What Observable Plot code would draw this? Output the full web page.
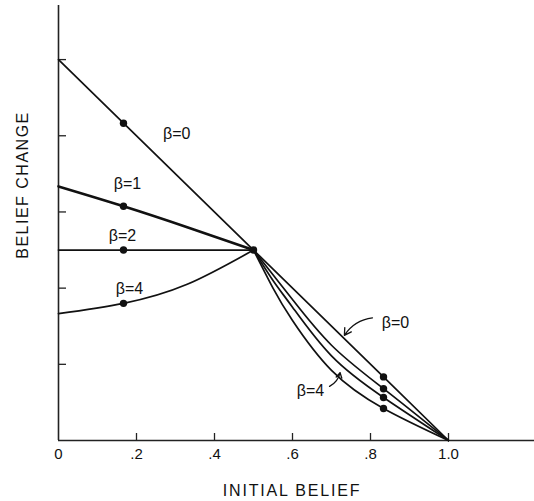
<!DOCTYPE html>
<html>
<head>
<meta charset="utf-8">
<script src="https://cdn.jsdelivr.net/npm/d3@7"></script>
<script src="https://cdn.jsdelivr.net/npm/@observablehq/plot@0.6"></script>
<style>
  html, body { margin: 0; padding: 0; background: #fff; }
  #chart svg { display: block; }
</style>
</head>
<body>
<div id="chart"></div>
<script>
// Tick values
const xTicks = [0.2, 0.4, 0.6, 0.8, 1.0];
const yTicks = [0.2, 0.4, 0.6, 0.8, 1.0];

// Curves: initial belief (x) and belief change (y)
const beta0X = [0, 1/6, 0.5, 5/6, 1];
const beta0Y = [1, 0.833, 0.5, 0.167, 0];

const beta1LeftX = [0, 1/6, 0.33, 0.5];
const beta1LeftY = [0.667, 0.615, 0.56, 0.5];
const beta1RightX = [0.5, 0.55, 0.6, 0.7, 5/6, 1];
const beta1RightY = [0.5, 0.435, 0.37, 0.25, 0.136, 0];

const beta2LeftX = [0, 1/6, 0.33, 0.5];
const beta2LeftY = [0.5, 0.5, 0.5, 0.5];
const beta2RightX = [0.5, 0.55, 0.6, 0.7, 5/6, 1];
const beta2RightY = [0.5, 0.42, 0.35, 0.222, 0.113, 0];

const beta4LeftX = [0, 1/6, 0.33, 0.5];
const beta4LeftY = [0.333, 0.36, 0.41, 0.5];
const beta4RightX = [0.5, 0.55, 0.6, 0.7, 5/6, 1];
const beta4RightY = [0.5, 0.40, 0.315, 0.184, 0.084, 0];

// Marked points
const dotX = [1/6, 1/6, 1/6, 1/6, 0.5, 5/6, 5/6, 5/6, 5/6];
const dotY = [0.833, 0.615, 0.5, 0.36, 0.5, 0.167, 0.136, 0.113, 0.084];

// Labels
const labelText = ["β=0", "β=1", "β=2", "β=4", "β=0", "β=4"];
const labelX = [0.303, 0.177, 0.164, 0.182, 0.864, 0.646];
const labelY = [0.806, 0.675, 0.538, 0.399, 0.31, 0.131];

// Arrows from the right-hand labels to their curves
const arrowX1 = [0.805, 0.695];
const arrowY1 = [0.322, 0.142];
const arrowX2 = [0.733, 0.722];
const arrowY2 = [0.276, 0.178];

const pts = (xs, ys) => xs.map((x, i) => ({x, y: ys[i]}));
const dots = pts(dotX, dotY);
const labels = labelText.map((t, i) => ({t, x: labelX[i], y: labelY[i]}));
const arrows = arrowX1.map((x1, i) => ({x1, y1: arrowY1[i], x2: arrowX2[i], y2: arrowY2[i]}));

const fmt = d => d === 1 ? "1.0" : String(d).replace(/^0\./, ".");

const lineOpts = {x: "x", y: "y", stroke: "#111", strokeWidth: 1.7, curve: "natural"};

const chart = Plot.plot({
  width: 534,
  height: 501,
  marginLeft: 58,
  marginRight: 0,
  marginTop: 5,
  marginBottom: 61,
  style: {fontFamily: "'Liberation Sans', Arial, sans-serif", color: "#111", background: "#fff"},
  x: {domain: [0, 1.2205]},
  y: {domain: [0, 1.142]},
  marks: [
    Plot.ruleX([0], {stroke: "#222", strokeWidth: 1.6}),
    Plot.ruleY([0], {stroke: "#222", strokeWidth: 1.6}),
    Plot.axisX({ticks: xTicks, tickSize: -7, tickPadding: 15, tickFormat: fmt, fontSize: 15, stroke: "#222", strokeWidth: 1.3, label: null}),
    Plot.axisX({ticks: [0], tickSize: 0, tickPadding: 8, tickFormat: () => "0", fontSize: 15, label: null}),
    Plot.axisY({ticks: yTicks, tickSize: -8, tickFormat: () => "", stroke: "#222", strokeWidth: 1.3, label: null}),
    Plot.line(pts(beta0X, beta0Y), {x: "x", y: "y", stroke: "#111", strokeWidth: 1.7}),
    Plot.line(pts(beta1LeftX, beta1LeftY), {...lineOpts, strokeWidth: 2.6}),
    Plot.line(pts(beta1RightX, beta1RightY), lineOpts),
    Plot.line(pts(beta2LeftX, beta2LeftY), lineOpts),
    Plot.line(pts(beta2RightX, beta2RightY), lineOpts),
    Plot.line(pts(beta4LeftX, beta4LeftY), lineOpts),
    Plot.line(pts(beta4RightX, beta4RightY), lineOpts),
    Plot.dot(dots, {x: "x", y: "y", r: 3.7, fill: "#111"}),
    Plot.text(labels, {x: "x", y: "y", text: "t", fontSize: 16, fill: "#111"}),
    Plot.arrow(arrows, {x1: "x1", y1: "y1", x2: "x2", y2: "y2", bend: -25, headLength: 9, stroke: "#111", strokeWidth: 1.3})
  ]
});

// Axis titles as real text in the SVG
const svg = d3.select(chart);
svg.append("text")
  .attr("x", 292).attr("y", 496)
  .attr("text-anchor", "middle")
  .attr("font-size", 16).attr("letter-spacing", "1.8px")
  .attr("font-family", "'Liberation Sans', Arial, sans-serif")
  .attr("fill", "#111")
  .text("INITIAL BELIEF");
svg.append("text")
  .attr("transform", "translate(28,185) rotate(-90)")
  .attr("text-anchor", "middle")
  .attr("font-size", 16).attr("letter-spacing", "1.5px")
  .attr("font-family", "'Liberation Sans', Arial, sans-serif")
  .attr("fill", "#111")
  .text("BELIEF CHANGE");

document.getElementById("chart").appendChild(chart);
</script>
</body>
</html>
